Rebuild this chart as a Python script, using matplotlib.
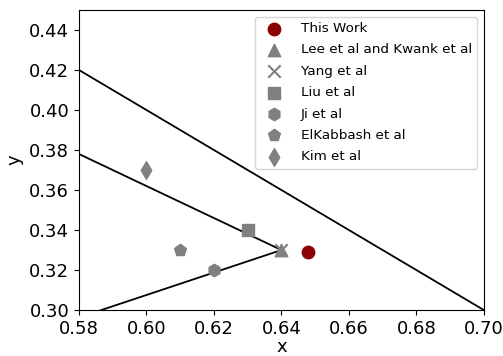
import matplotlib
matplotlib.use("Agg")
import matplotlib.pyplot as plt

# data points (CIE-like x, y coordinates)
labels = ["This Work", "Lee et al and Kwank et al", "Yang et al", "Liu et al",
          "Ji et al", "ElKabbash et al", "Kim et al"]
xs = [0.648, 0.640, 0.640, 0.630, 0.620, 0.610, 0.600]
ys = [0.329, 0.330, 0.330, 0.340, 0.320, 0.330, 0.370]
markers = ["o", "^", "x", "s", "h", "p", "d"]
colors = ["darkred", "gray", "gray", "gray", "gray", "gray", "gray"]

# boundary lines
line1_x = [0.58, 0.70]
line1_y = [0.42, 0.30]
line2_x = [0.58, 0.64]
line2_y = [0.378, 0.330]
line3_x = [0.64, 0.58]
line3_y = [0.330, 0.2963]

fig, ax = plt.subplots(figsize=(5.03, 3.56), dpi=100)
ax.plot(line1_x, line1_y, color="black", linewidth=1.3)
ax.plot(line2_x, line2_y, color="black", linewidth=1.3)
ax.plot(line3_x, line3_y, color="black", linewidth=1.3)

for x, y, m, c, lab in zip(xs, ys, markers, colors, labels):
    ax.scatter(x, y, marker=m, color=c, s=80, label=lab, zorder=3)

ax.set_xlim(0.58, 0.70)
ax.set_ylim(0.30, 0.45)
ax.set_xlabel("x", fontsize=13, labelpad=0)
ax.set_ylabel("y", fontsize=13)
ax.tick_params(labelsize=13)
ax.legend(fontsize=9.7, loc="upper right", labelspacing=0.62, handletextpad=1.0,
          borderaxespad=0.5)

fig.subplots_adjust(left=0.157, right=0.962, top=0.972, bottom=0.129)
fig.savefig("out.png", dpi=100)
